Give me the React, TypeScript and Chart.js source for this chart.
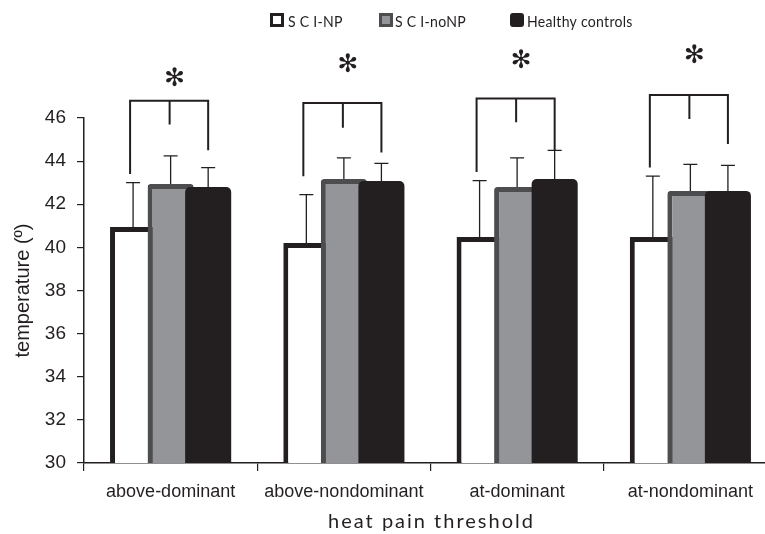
import { useEffect, useRef } from 'react';
import { Chart, registerables } from 'chart.js';

Chart.register(...registerables);

const categories = ['above-dominant', 'above-nondominant', 'at-dominant', 'at-nondominant'];
const seriesNames = ['S C I-NP', 'S C I-noNP', 'Healthy controls'];
const sciNP = [40.95, 40.2, 40.48, 40.48];
const sciNPsd = [2.05, 2.25, 2.62, 2.82];
const sciNoNP = [42.94, 43.17, 42.8, 42.62];
const sciNoNPsd = [1.3, 0.98, 1.35, 1.23];
const healthy = [42.8, 43.08, 43.17, 42.62];
const healthySd = [0.9, 0.82, 1.33, 1.18];
const yMin = 30;
const yMax = 46;
const yStep = 2;
const bracketTop = [46.8, 46.7, 46.9, 47.07];
const bracketLeftEnd = [43.4, 43.3, 43.5, 43.7];
const bracketMidEnd = [45.7, 45.55, 45.8, 45.95];
const bracketRightEnd = [44.5, 44.4, 44.5, 44.8];
const starLevel = [47.8, 48.45, 48.6, 48.85];
const xTitle = 'heat pain threshold';
const yTitle = 'temperature (º)';

const INK = '#231f20';
const GREY = '#939598';
const GREY_EDGE = '#4d4d4f';

export default function App() {
  const ref = useRef<HTMLCanvasElement>(null);

  useEffect(() => {
    const canvas = ref.current;
    if (!canvas) return;
    const values = [sciNP, sciNoNP, healthy];
    const sds = [sciNPsd, sciNoNPsd, healthySd];

    const overlay = {
      id: 'overlay',
      beforeDatasetsDraw(chart: any) {
        const { ctx, chartArea } = chart;
        ctx.save();
        ctx.beginPath();
        ctx.rect(chartArea.left, chartArea.top - 2, chartArea.right - chartArea.left, chartArea.bottom - chartArea.top + 2);
        ctx.clip();
        for (let i = 0; i < chart.data.datasets.length; i++) {
          chart.getDatasetMeta(i).controller.draw();
        }
        ctx.restore();
        return false;
      },
      afterDraw(chart: any) {
        const { ctx, scales } = chart;
        const y = scales.y;
        const metas = [0, 1, 2].map((i) => chart.getDatasetMeta(i));
        ctx.save();
        ctx.strokeStyle = INK;
        ctx.fillStyle = INK;
        // error bars
        ctx.lineWidth = 1.3;
        metas.forEach((m: any, d: number) => {
          m.data.forEach((bar: any, i: number) => {
            const x = bar.x;
            const y0 = bar.y;
            const y1 = y.getPixelForValue(values[d][i] + sds[d][i]);
            ctx.beginPath();
            ctx.moveTo(x, y0);
            ctx.lineTo(x, y1);
            ctx.moveTo(x - 7, y1);
            ctx.lineTo(x + 7, y1);
            ctx.stroke();
          });
        });
        // significance brackets
        ctx.lineWidth = 2;
        ctx.lineJoin = 'miter';
        ctx.textAlign = 'center';
        ctx.textBaseline = 'middle';
        ctx.font = 'bold 25px "DejaVu Sans"';
        for (let i = 0; i < categories.length; i++) {
          const xl = metas[0].data[i].x - 3;
          const xm = metas[1].data[i].x - 1;
          const xr = metas[2].data[i].x;
          const yt = y.getPixelForValue(bracketTop[i]);
          ctx.beginPath();
          ctx.moveTo(xl, y.getPixelForValue(bracketLeftEnd[i]));
          ctx.lineTo(xl, yt);
          ctx.lineTo(xr, yt);
          ctx.lineTo(xr, y.getPixelForValue(bracketRightEnd[i]));
          ctx.moveTo(xm, yt);
          ctx.lineTo(xm, y.getPixelForValue(bracketMidEnd[i]));
          ctx.stroke();
          ctx.fillText('✻', xm + 5, y.getPixelForValue(starLevel[i]));
        }
        // legend
        const boxX = [270, 379, 510];
        const textX = [288, 395, 527];
        const boxY = 13;
        const bs = 14;
        ctx.fillStyle = INK;
        ctx.fillRect(boxX[0], boxY, bs, bs);
        ctx.fillStyle = '#ffffff';
        ctx.fillRect(boxX[0] + 3, boxY + 3, bs - 6, bs - 6);
        ctx.fillStyle = GREY_EDGE;
        ctx.fillRect(boxX[1], boxY, bs, bs);
        ctx.fillStyle = GREY;
        ctx.fillRect(boxX[1] + 3, boxY + 3, bs - 6, bs - 6);
        ctx.fillStyle = INK;
        ctx.beginPath();
        ctx.roundRect(boxX[2], boxY, bs, bs, 3);
        ctx.fill();
        ctx.font = '16px Lato';
        ctx.textAlign = 'left';
        ctx.textBaseline = 'alphabetic';
        (ctx as any).letterSpacing = '0.3px';
        seriesNames.forEach((name, i) => {
          ctx.save();
          ctx.translate(textX[i], boxY + bs);
          ctx.scale(0.88, 1);
          ctx.fillText(name, 0, 0);
          ctx.restore();
        });
        // x title
        const xs = scales.x;
        ctx.font = '20px Lato';
        (ctx as any).letterSpacing = '2px';
        ctx.textAlign = 'center';
        ctx.fillText(xTitle, (xs.left + xs.right) / 2 + 1, 528);
        ctx.restore();
      },
    };

    const chart = new Chart(canvas, {
      type: 'bar',
      data: {
        labels: categories,
        datasets: [
          {
            label: seriesNames[0],
            data: sciNP,
            backgroundColor: '#ffffff',
            borderColor: INK,
            borderWidth: 5,
            borderSkipped: 'start',
          },
          {
            label: seriesNames[1],
            data: sciNoNP,
            backgroundColor: GREY,
            borderColor: GREY_EDGE,
            borderWidth: 5,
            borderRadius: 3,
            borderSkipped: 'start',
          },
          {
            label: seriesNames[2],
            data: healthy,
            backgroundColor: INK,
            borderWidth: 0,
            borderRadius: 5,
            borderSkipped: 'start',
          },
        ],
      },
      options: {
        responsive: false,
        animation: false,
        devicePixelRatio: 1,
        layout: { padding: { top: 118, right: 1, left: 0, bottom: 0 } },
        datasets: {
          bar: { categoryPercentage: 0.65, barPercentage: 1.227 },
        },
        plugins: {
          legend: { display: false },
          tooltip: { enabled: false },
        },
        scales: {
          x: {
            z: 1,
            grid: {
              display: true,
              drawOnChartArea: false,
              drawTicks: true,
              tickLength: 8,
              color: INK,
              lineWidth: 1.2,
              offset: true,
            },
            border: { display: true, color: INK, width: 1.5 },
            ticks: {
              color: INK,
              padding: 10,
              font: { family: '"Liberation Sans"', size: 18 },
            },
            afterFit: (scale: any) => {
              scale.height = 71;
            },
          },
          y: {
            min: yMin,
            max: yMax,
            grid: {
              display: true,
              drawOnChartArea: false,
              drawTicks: true,
              tickLength: 7,
              color: INK,
              lineWidth: 1.2,
            },
            border: { display: true, color: INK, width: 1.5 },
            ticks: {
              stepSize: yStep,
              color: INK,
              padding: 11,
              font: { family: '"Liberation Sans"', size: 19 },
            },
            title: {
              display: true,
              text: yTitle,
              color: INK,
              font: { family: '"Liberation Sans"', size: 20 },
              padding: { top: 11, bottom: 0 },
            },
            afterFit: (scale: any) => {
              scale.width = 84;
            },
          },
        },
      },
      plugins: [overlay],
    } as any);

    return () => chart.destroy();
  }, []);

  return (
    <div style={{ position: 'fixed', left: 0, top: 0, width: 765, height: 534, overflow: 'hidden', background: '#ffffff' }}>
      <canvas ref={ref} width={778} height={534} style={{ display: 'block', width: 778, height: 534 }} />
    </div>
  );
}
